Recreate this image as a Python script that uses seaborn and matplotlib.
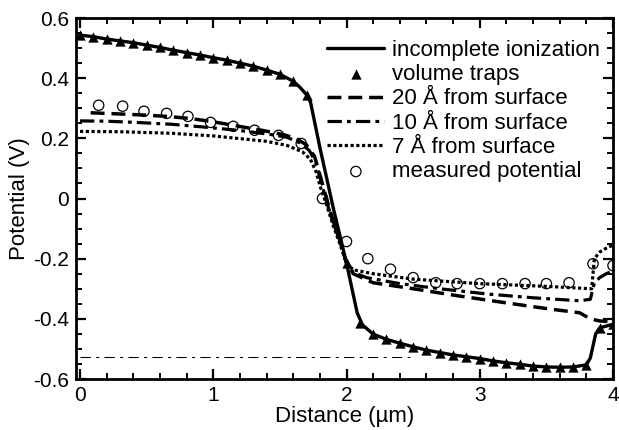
import matplotlib
matplotlib.use("Agg")
import matplotlib.pyplot as plt
import seaborn as sns
from matplotlib.ticker import MultipleLocator, FuncFormatter

# ---------------- data ----------------
inc_x = [0.0, 0.1, 0.2, 0.3, 0.4, 0.5, 0.6, 0.7, 0.8, 0.9, 1.0, 1.1, 1.2, 1.3, 1.4,
         1.5, 1.6, 1.65, 1.7, 1.73, 1.8, 1.9, 2.0, 2.08, 2.12, 2.2, 2.3, 2.4, 2.5,
         2.6, 2.7, 2.8, 2.9, 3.0, 3.1, 3.2, 3.3, 3.4, 3.5, 3.6, 3.7, 3.8, 3.83,
         3.87, 3.9, 4.0]
inc_y = [0.543, 0.538, 0.530, 0.524, 0.518, 0.510, 0.502, 0.493, 0.485, 0.477,
         0.468, 0.460, 0.450, 0.440, 0.427, 0.413, 0.390, 0.370, 0.345, 0.320,
         0.170, -0.030, -0.215, -0.380, -0.420, -0.451, -0.468, -0.481, -0.493,
         -0.504, -0.512, -0.520, -0.526, -0.532, -0.540, -0.546, -0.551, -0.557,
         -0.560, -0.561, -0.560, -0.553, -0.530, -0.450, -0.430, -0.418]

tri_x = [0.0, 0.1, 0.2, 0.3, 0.4, 0.5, 0.6, 0.7, 0.8, 0.9, 1.0, 1.1, 1.2, 1.3, 1.4,
         1.5, 1.6, 1.7, 2.0, 2.1, 2.2, 2.3, 2.4, 2.5, 2.6, 2.7, 2.8, 2.9, 3.0, 3.1,
         3.2, 3.3, 3.4, 3.5, 3.6, 3.7, 3.8, 3.9, 4.0]
tri_y = [0.543, 0.538, 0.530, 0.524, 0.518, 0.510, 0.502, 0.493, 0.485, 0.477,
         0.468, 0.460, 0.450, 0.440, 0.427, 0.413, 0.390, 0.345, -0.215, -0.415,
         -0.451, -0.468, -0.481, -0.493, -0.504, -0.512, -0.520, -0.526, -0.532,
         -0.540, -0.546, -0.551, -0.557, -0.560, -0.561, -0.560, -0.553, -0.430,
         -0.418]

s20_x = [0.08, 0.3, 0.5, 0.65, 0.83, 1.0, 1.18, 1.35, 1.52, 1.62, 1.7, 1.76, 1.8,
         1.85, 1.9, 1.95, 2.0, 2.05, 2.2, 2.5, 2.83, 3.2, 3.52, 3.75, 3.83, 3.9, 4.0]
s20_y = [0.285, 0.281, 0.277, 0.273, 0.266, 0.255, 0.241, 0.228, 0.213, 0.200,
         0.178, 0.140, 0.080, 0.000, -0.075, -0.140, -0.215, -0.250, -0.280,
         -0.300, -0.323, -0.347, -0.367, -0.380, -0.400, -0.407, -0.410]

s10_x = [0.0, 0.2, 0.42, 0.68, 0.92, 1.18, 1.43, 1.55, 1.65, 1.72, 1.77, 1.8, 1.85,
         1.9, 1.95, 2.0, 2.05, 2.15, 2.4, 2.7, 3.07, 3.4, 3.75, 3.83, 3.86, 3.9,
         3.95, 4.0]
s10_y = [0.258, 0.257, 0.253, 0.247, 0.238, 0.227, 0.213, 0.204, 0.185, 0.160,
         0.120, 0.070, -0.010, -0.080, -0.140, -0.215, -0.245, -0.263, -0.283,
         -0.300, -0.318, -0.330, -0.340, -0.335, -0.280, -0.263, -0.250, -0.240]

s7_x = [0.0, 0.3, 0.68, 1.0, 1.18, 1.4, 1.55, 1.67, 1.73, 1.77, 1.81, 1.85, 1.9,
        1.95, 2.0, 2.05, 2.2, 2.5, 3.0, 3.5, 3.84, 3.86, 3.9, 3.95, 4.0]
s7_y = [0.223, 0.222, 0.217, 0.208, 0.200, 0.190, 0.177, 0.155, 0.130, 0.090,
        0.030, -0.020, -0.090, -0.150, -0.215, -0.237, -0.250, -0.268, -0.283,
        -0.292, -0.300, -0.200, -0.178, -0.165, -0.155]

meas_x = [0.14, 0.32, 0.48, 0.65, 0.81, 0.98, 1.15, 1.31, 1.49, 1.66, 1.82, 2.0,
          2.16, 2.33, 2.5, 2.67, 2.83, 3.0, 3.17, 3.34, 3.5, 3.67, 3.85, 4.0]
meas_y = [0.310, 0.307, 0.290, 0.283, 0.273, 0.253, 0.240, 0.227, 0.210, 0.183,
          0.000, -0.143, -0.200, -0.235, -0.263, -0.280, -0.283, -0.283, -0.283,
          -0.283, -0.283, -0.280, -0.217, -0.223]

ref_x = [0.0, 2.48]
ref_y = [-0.527, -0.527]

labels_order = ["incomplete ionization", "volume traps", "20 Å from surface",
                "10 Å from surface", "7 Å from surface", "measured potential"]

# ---------------- styling ----------------
sns.set_theme(style="ticks")
plt.rcParams['font.family'] = ['Liberation Sans', 'DejaVu Sans']
plt.rcParams['axes.unicode_minus'] = False
plt.rcParams['axes.edgecolor'] = 'black'
plt.rcParams['xtick.color'] = 'black'
plt.rcParams['ytick.color'] = 'black'
plt.rcParams['text.color'] = 'black'
plt.rcParams['axes.labelcolor'] = 'black'
plt.rcParams['lines.dash_capstyle'] = 'butt'

fig = plt.figure(figsize=(6.19, 4.30), dpi=100)
ax = fig.add_axes([0.1228, 0.1186, 0.8675, 0.8395])

sns.lineplot(x=ref_x, y=ref_y, ax=ax, color='black', lw=0.75,
             linestyle=(0, (10, 5, 3, 5)), estimator=None, sort=False)
sns.lineplot(x=s7_x, y=s7_y, ax=ax, color='black', lw=2.3,
             linestyle=(0, (1.0, 0.8)), estimator=None, sort=False,
             label=labels_order[4])
sns.lineplot(x=s10_x, y=s10_y, ax=ax, color='black', lw=2.3,
             linestyle=(0, (4.5, 1.6, 1.2, 1.6)), estimator=None, sort=False,
             label=labels_order[3])
sns.lineplot(x=s20_x, y=s20_y, ax=ax, color='black', lw=2.5,
             linestyle=(0, (4, 2)), estimator=None, sort=False,
             label=labels_order[2])
sns.lineplot(x=inc_x, y=inc_y, ax=ax, color='black', lw=2.4,
             estimator=None, sort=False, label=labels_order[0])
sns.scatterplot(x=tri_x, y=tri_y, ax=ax, marker='^', s=55, color='black',
                linewidth=0, zorder=4, label=labels_order[1])
sns.scatterplot(x=meas_x, y=meas_y, ax=ax, marker='o', s=55, color='black',
                linewidth=0.9, zorder=5, label=labels_order[5])
circ = ax.collections[-1]
circ.set_facecolor('none')
circ.set_edgecolor('black')

ax.set_xlim(-0.03, 4.0)
ax.set_ylim(-0.6, 0.6)
ax.xaxis.set_major_locator(MultipleLocator(1))
ax.xaxis.set_minor_locator(MultipleLocator(0.2))
ax.yaxis.set_major_locator(MultipleLocator(0.2))
ax.yaxis.set_minor_locator(MultipleLocator(0.05))
ax.yaxis.set_major_formatter(FuncFormatter(lambda v, p: '0' if abs(v) < 1e-9 else f'{v:.1f}'))
ax.xaxis.set_major_formatter(FuncFormatter(lambda v, p: f'{v:g}'))

ax.tick_params(which='both', direction='in', top=True, right=True,
               color='black', labelcolor='black')
ax.tick_params(which='major', length=7, width=1.6, labelsize=15, pad=5)
ax.tick_params(which='minor', length=4, width=1.4)
for sp in ax.spines.values():
    sp.set_linewidth(2.0)
    sp.set_color('black')

ax.set_xlabel('Distance (µm)', fontsize=16, labelpad=1, color='black')
ax.set_ylabel('Potential (V)', fontsize=16, labelpad=2, color='black')

h, l = ax.get_legend_handles_labels()
hd = dict(zip(l, h))
leg = ax.legend([hd[k] for k in labels_order], labels_order, loc='upper left',
                bbox_to_anchor=(0.468, 0.94), frameon=False, fontsize=16,
                handlelength=2.57, handletextpad=0.36, labelspacing=0.15,
                borderpad=0, borderaxespad=0, scatterpoints=1)
for t in leg.get_texts():
    t.set_color('black')

fig.savefig('out.png', dpi=100)
